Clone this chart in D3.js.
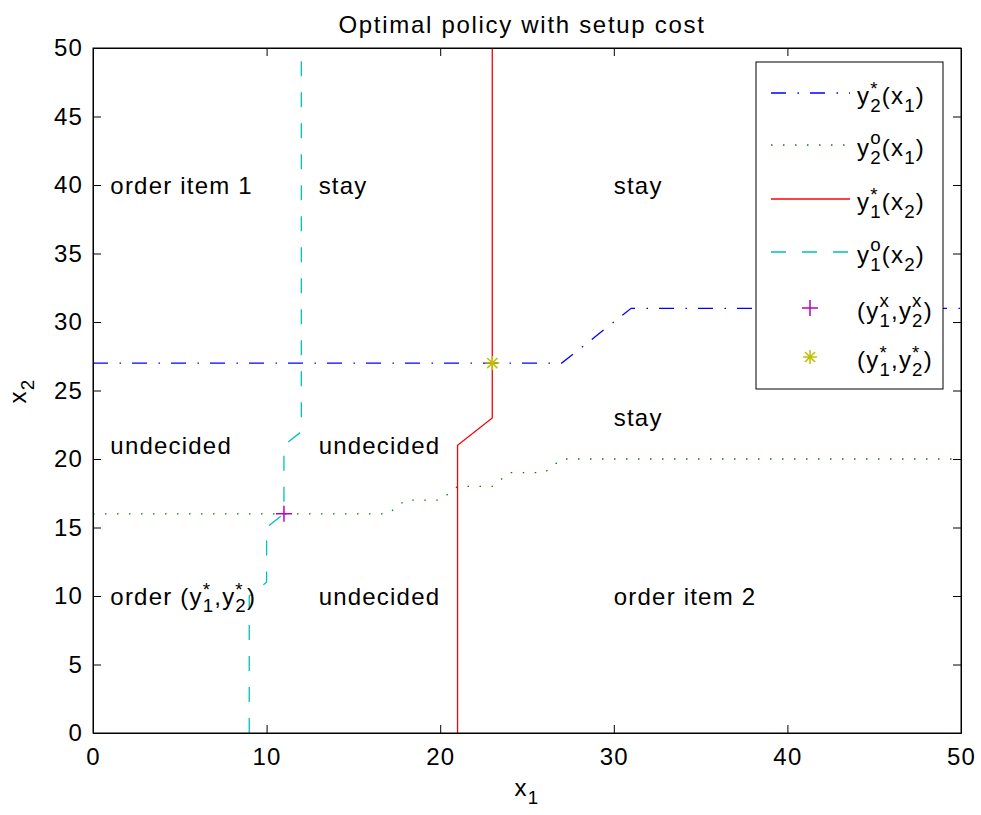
<!DOCTYPE html>
<html>
<head>
<meta charset="utf-8">
<script src="https://cdn.jsdelivr.net/npm/d3@7"></script>
<style>
  html, body { margin: 0; padding: 0; background: #fff; }
  svg { display: block; font-family: "Liberation Sans", Arial, Helvetica, sans-serif; }
</style>
</head>
<body>
<svg id="chart" width="981" height="815"></svg>
<script>
// Threshold curves of the two-item inventory policy
const y2Star = [[0, 27], [27, 27], [31, 31], [50, 31]];          // y2*(x1)
const y2Order = [[0, 16], [17, 16], [18, 17], [20, 17], [21, 18], [23, 18],
                 [24, 19], [26, 19], [27, 20], [50, 20]];         // y2o(x1)
const y1Star = [[21, 0], [21, 21], [23, 23], [23, 50]];           // y1*(x2)
const y1Order = [[9, 0], [9, 10], [10, 11], [10, 15], [11, 16], [11, 21],
                 [12, 22], [12, 50]];                            // y1o(x2)
const pointX = [11, 16];      // (y1x, y2x)
const pointStar = [23, 27];   // (y1*, y2*)

const xTicks = [0, 10, 20, 30, 40, 50];
const yTicks = [0, 5, 10, 15, 20, 25, 30, 35, 40, 45, 50];

// Region annotations: [x1, x2, label tokens]
const regionLabels = [
  [1, 40, [{t: "order item 1"}]],
  [13, 40, [{t: "stay"}]],
  [30, 40, [{t: "stay"}]],
  [1, 21, [{t: "undecided"}]],
  [13, 21, [{t: "undecided"}]],
  [30, 23, [{t: "stay"}]],
  [1, 10, [{t: "order (y"}, {sup: "*", sub: "1"}, {t: ",y"}, {sup: "*", sub: "2"}, {t: ")"}]],
  [13, 10, [{t: "undecided"}]],
  [30, 10, [{t: "order item 2"}]]
];

const svg = d3.select("#chart");
const mLeft = 93, mRight = 961, mTop = 48, mBottom = 733;
const x = d3.scaleLinear().domain([0, 50]).range([mLeft, mRight]);
const y = d3.scaleLinear().domain([0, 50]).range([mBottom, mTop]);
const FS = 24;
const LS = 1.2;   // letter spacing of all text

// Width of a string at a given font size
function measure(str, size) {
  const t = svg.append("text").attr("font-size", size).attr("letter-spacing", LS).text(str);
  const w = t.node().getComputedTextLength();
  t.remove();
  return w;
}

// One text element with TeX-like stacked sub/superscripts built from tspans
function richText(g, px, py, tokens, size, anchorMiddle) {
  const small = size * 0.78;
  const subOff = size * 0.33;
  let total = 0;
  tokens.forEach(tok => {
    if (tok.t !== undefined) total += measure(tok.t, size);
    else total += Math.max(tok.sup ? measure(tok.sup, small) : 0, tok.sub ? measure(tok.sub, small) : 0);
  });
  const ox = anchorMiddle ? px - total / 2 : px;
  const txt = g.append("text").attr("x", ox).attr("y", py).attr("font-size", size)
    .attr("letter-spacing", LS).attr("fill", "#000");
  let level = 0;  // current baseline offset from py
  tokens.forEach(tok => {
    if (tok.t !== undefined) {
      txt.append("tspan").attr("dy", -level).attr("font-size", size).text(tok.t);
      level = 0;
    } else {
      const wSup = tok.sup ? measure(tok.sup, small) : 0;
      const wSub = tok.sub ? measure(tok.sub, small) : 0;
      const w = Math.max(wSup, wSub);
      if (tok.sup) {
        const supY = tok.sup === "*" ? -size * 0.36 : -size * 0.5;
        txt.append("tspan").attr("dy", supY - level).attr("font-size", small).text(tok.sup);
        level = supY;
        if (tok.sub) {
          txt.append("tspan").attr("dx", -wSup).attr("dy", subOff - level)
            .attr("font-size", small).text(tok.sub);
          level = subOff;
          if (w > wSub) txt.append("tspan").attr("dx", w - wSub).text("");
        } else if (w > wSup) {
          txt.append("tspan").attr("dx", w - wSup).text("");
        }
      } else if (tok.sub) {
        txt.append("tspan").attr("dy", subOff - level).attr("font-size", small).text(tok.sub);
        level = subOff;
      }
    }
  });
  return txt;
}

// Axes frame
const xAxisB = d3.axisBottom(x).tickValues(xTicks).tickSizeInner(-8).tickSizeOuter(0).tickPadding(15);
const xAxisT = d3.axisTop(x).tickValues(xTicks).tickSizeInner(-8).tickSizeOuter(0).tickFormat("");
const yAxisL = d3.axisLeft(y).tickValues(yTicks).tickSizeInner(-8).tickSizeOuter(0).tickPadding(10);
const yAxisR = d3.axisRight(y).tickValues(yTicks).tickSizeInner(-8).tickSizeOuter(0).tickFormat("");

function styleAxis(g) {
  g.selectAll("path").attr("stroke", "#000").attr("stroke-width", 1);
  g.selectAll("line").attr("stroke", "#000").attr("stroke-width", 1);
  g.selectAll("text").attr("font-size", FS).attr("fill", "#000").attr("letter-spacing", LS)
    .attr("font-family", "Liberation Sans, Arial, sans-serif");
}

// Curves
const line = d3.line().x(d => x(d[0])).y(d => y(d[1]));
const curves = [
  {data: y2Star, color: "#0000ff", dash: "15 11.5 1.5 11"},
  {data: y2Order, color: "#008000", dash: "1.5 10.5"},
  {data: y1Star, color: "#ff0000", dash: null},
  {data: y1Order, color: "#00bfbf", dash: "15 16"}
];
const plot = svg.append("g");
curves.forEach(c => {
  plot.append("path").datum(c.data).attr("d", line)
    .attr("fill", "none").attr("stroke", c.color).attr("stroke-width", 1.3)
    .attr("stroke-dasharray", c.dash);
});

function plusMarker(g, cx, cy, r, color) {
  g.append("path").attr("d", `M${cx - r},${cy}H${cx + r}M${cx},${cy - r}V${cy + r}`)
    .attr("stroke", color).attr("stroke-width", 1.5).attr("fill", "none");
}
function starMarker(g, cx, cy, r, color) {
  const rd = r * 0.72;
  g.append("path").attr("d",
    `M${cx - r},${cy}H${cx + r}M${cx},${cy - r}V${cy + r}` +
    `M${cx - rd},${cy - rd}L${cx + rd},${cy + rd}M${cx - rd},${cy + rd}L${cx + rd},${cy - rd}`)
    .attr("stroke", color).attr("stroke-width", 1.5).attr("fill", "none");
}
plusMarker(plot, x(pointX[0]), y(pointX[1]), 8, "#bf00bf");
starMarker(plot, x(pointStar[0]), y(pointStar[1]), 7, "#bfbf00");

// Region annotations
regionLabels.forEach(([a, b, toks]) => {
  richText(svg, x(a), y(b) + 8.5, toks, FS, false);
});

// Axes on top of curves
svg.append("g").attr("transform", `translate(0,${mBottom})`).call(xAxisB).call(styleAxis);
svg.append("g").attr("transform", `translate(0,${mTop})`).call(xAxisT).call(styleAxis);
svg.append("g").attr("transform", `translate(${mLeft},0)`).call(yAxisL).call(styleAxis);
svg.append("g").attr("transform", `translate(${mRight},0)`).call(yAxisR).call(styleAxis);
svg.append("rect").attr("x", mLeft).attr("y", mTop).attr("width", mRight - mLeft).attr("height", mBottom - mTop)
  .attr("fill", "none").attr("stroke", "#000").attr("stroke-width", 1);

// Title and axis labels
svg.append("text").attr("x", (mLeft + mRight) / 2 - 5).attr("y", 33).attr("text-anchor", "middle")
  .attr("font-size", FS).attr("letter-spacing", 1.7).attr("fill", "#000")
  .text("Optimal policy with setup cost");
richText(svg, (mLeft + mRight) / 2, 796, [{t: "x"}, {sub: "1"}], FS, true);
const yl = svg.append("g").attr("transform", "translate(26,391) rotate(-90)");
richText(yl, 0, 0, [{t: "x"}, {sub: "2"}], FS, true);

// Legend
const lg = svg.append("g");
const lx = 756, ly = 62, lw = 187, lh = 327;
const rowY = [93, 145, 199, 252, 308, 357];
lg.append("rect").attr("x", lx).attr("y", ly).attr("width", lw).attr("height", lh)
  .attr("fill", "#fff").attr("stroke", "#000").attr("stroke-width", 1);
const legendItems = [
  {type: "line", c: curves[0], tok: [{t: "y"}, {sup: "*", sub: "2"}, {t: "(x"}, {sub: "1"}, {t: ")"}]},
  {type: "line", c: curves[1], tok: [{t: "y"}, {sup: "o", sub: "2"}, {t: "(x"}, {sub: "1"}, {t: ")"}]},
  {type: "line", c: curves[2], tok: [{t: "y"}, {sup: "*", sub: "1"}, {t: "(x"}, {sub: "2"}, {t: ")"}]},
  {type: "line", c: curves[3], tok: [{t: "y"}, {sup: "o", sub: "1"}, {t: "(x"}, {sub: "2"}, {t: ")"}]},
  {type: "plus", tok: [{t: "(y"}, {sup: "x", sub: "1"}, {t: ",y"}, {sup: "x", sub: "2"}, {t: ")"}]},
  {type: "star", tok: [{t: "(y"}, {sup: "*", sub: "1"}, {t: ",y"}, {sup: "*", sub: "2"}, {t: ")"}]}
];
legendItems.forEach((it, i) => {
  const cy = rowY[i];
  if (it.type === "line") {
    lg.append("line").attr("x1", 771).attr("x2", 850).attr("y1", cy).attr("y2", cy)
      .attr("stroke", it.c.color).attr("stroke-width", 1.3).attr("stroke-dasharray", it.c.dash);
  } else if (it.type === "plus") {
    plusMarker(lg, 810, cy, 8, "#bf00bf");
  } else {
    starMarker(lg, 810, cy, 7, "#bfbf00");
  }
  richText(lg, 857, cy + 11, it.tok, FS, false);
});
</script>
</body>
</html>
